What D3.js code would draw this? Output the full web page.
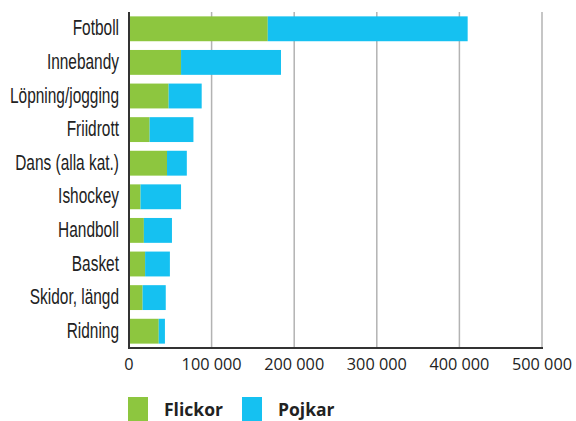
<!DOCTYPE html>
<html>
<head>
<meta charset="utf-8">
<script src="https://cdn.jsdelivr.net/npm/d3@7"></script>
<style>
  html, body { margin: 0; padding: 0; background: #fff; }
  svg { display: block; }
</style>
</head>
<body>
<svg id="chart" width="576" height="421"></svg>
<script>
const categories = ["Fotboll", "Innebandy", "Löpning/jogging", "Friidrott", "Dans (alla kat.)", "Ishockey", "Handboll", "Basket", "Skidor, längd", "Ridning"];
const flickor = [168000, 63000, 48000, 25000, 46000, 14000, 18000, 19500, 16500, 36000];
const pojkar  = [242000, 121000, 40000, 53000, 24000, 49000, 34000, 30000, 28000, 7500];
const xTicks = [0, 100000, 200000, 300000, 400000, 500000];
const seriesNames = ["Flickor", "Pojkar"];
const colors = ["#8DC63F", "#15C1F1"];

const svg = d3.select("#chart");
const pLeft = 129, pRight = 542, pTop = 12, pBottom = 348;

const x = d3.scaleLinear().domain([0, 500000]).range([pLeft, pRight]);
const y = d3.scaleBand().domain(categories).range([pTop, pBottom]).paddingInner(0.26).paddingOuter(0.13);

// grid lines
svg.append("g").selectAll("line").data(xTicks.slice(1)).join("line")
  .attr("x1", d => x(d)).attr("x2", d => x(d))
  .attr("y1", pTop).attr("y2", pBottom)
  .attr("stroke", "#b3b3b3").attr("stroke-width", 1.5);

// stacked bars
const rows = categories.map((c, i) => ({ cat: c, Flickor: flickor[i], Pojkar: pojkar[i] }));
const stack = d3.stack().keys(seriesNames)(rows);
svg.append("g").selectAll("g").data(stack).join("g")
  .attr("fill", (d, i) => colors[i])
  .selectAll("rect").data(d => d).join("rect")
  .attr("x", d => x(d[0]))
  .attr("width", d => x(d[1]) - x(d[0]))
  .attr("y", d => y(d.data.cat))
  .attr("height", y.bandwidth());

// axes lines
svg.append("line").attr("x1", pLeft).attr("x2", pLeft).attr("y1", pTop).attr("y2", pBottom + 1)
  .attr("stroke", "#333").attr("stroke-width", 2);
svg.append("line").attr("x1", pLeft - 1).attr("x2", pRight + 1).attr("y1", pBottom).attr("y2", pBottom)
  .attr("stroke", "#333").attr("stroke-width", 2);

// category labels (condensed look via horizontal scale)
const catG = svg.append("g");
const catTexts = catG.selectAll("text").data(categories).join("text")
  .attr("x", 0).attr("y", 0)
  .attr("dy", "0.3em")
  .attr("text-anchor", "end")
  .attr("font-family", "'Liberation Sans', Arial, sans-serif")
  .attr("font-size", 22)
  .attr("fill", "#222")
  .text(d => d);
let refW = 0;
catTexts.each(function(d) { if (d === "Löpning/jogging") refW = this.getComputedTextLength(); });
const sx = refW > 0 ? 109 / refW : 0.72;
catTexts.attr("transform", d => `translate(119,${y(d) + y.bandwidth() / 2}) scale(${sx},1)`);

// x tick labels
const fmt = d => d3.format(",")(d).replace(/,/g, " ");
const tickTexts = svg.append("g").selectAll("text").data(xTicks).join("text")
  .attr("x", d => x(d))
  .attr("y", 370)
  .attr("text-anchor", "middle")
  .attr("font-family", "'Open Sans', sans-serif")
  .attr("font-size", 16)
  .attr("fill", "#222")
  .text(fmt);
let tW = 0;
tickTexts.each(function(d) { if (d === 100000) tW = this.getComputedTextLength(); });
if (tW > 0) {
  const fs = Math.max(12, Math.min(19, 16 * 60 / tW));
  tickTexts.attr("font-size", fs);
}

// legend
const legX = [128, 242];
const lg = svg.append("g").selectAll("g").data(seriesNames).join("g")
  .attr("transform", (d, i) => `translate(${legX[i]},397)`);
lg.append("rect").attr("width", 20).attr("height", 24).attr("fill", (d, i) => colors[i]);
lg.append("text").attr("x", 36).attr("y", 19)
  .attr("font-family", "'Open Sans', sans-serif").attr("font-weight", "bold")
  .attr("font-size", 17.5).attr("fill", "#222").text(d => d);
</script>
</body>
</html>
